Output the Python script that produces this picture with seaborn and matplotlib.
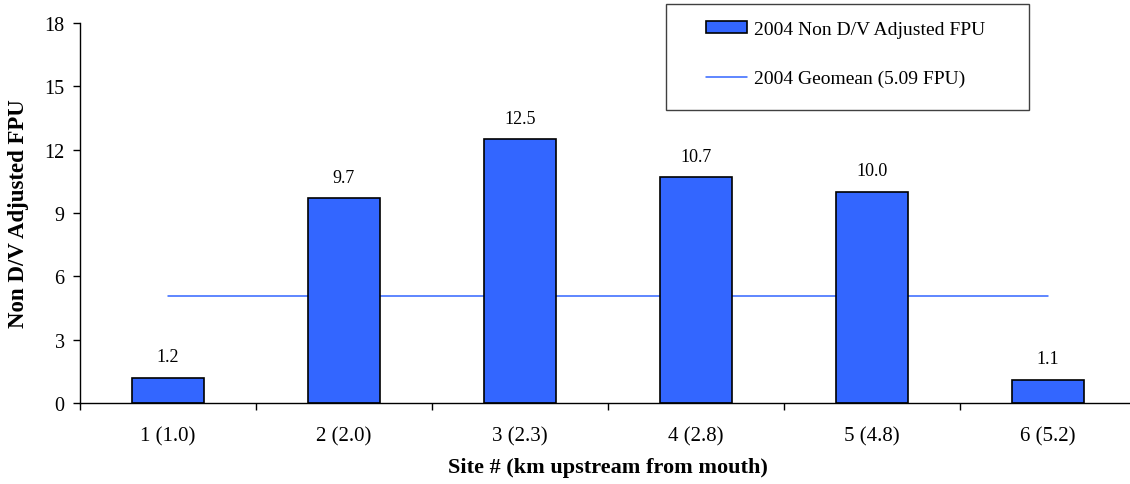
import matplotlib
matplotlib.use("Agg")
import matplotlib.pyplot as plt
from matplotlib.patches import Rectangle
from matplotlib.ticker import FixedLocator, MultipleLocator
import seaborn as sns
import pandas as pd

# Site data
sites = ["1 (1.0)", "2 (2.0)", "3 (2.3)", "4 (2.8)", "5 (4.8)", "6 (5.2)"]
fpu_values = [1.2, 9.7, 12.5, 10.7, 10.0, 1.1]
geomean = 5.09

bar_label = "2004 Non D/V Adjusted FPU"
line_label = "2004 Geomean (5.09 FPU)"

sns.set_theme(style="white")
plt.rcParams["font.family"] = ["Liberation Serif", "DejaVu Serif"]
plt.rcParams["text.color"] = "black"

W, H = 1130, 485
fig = plt.figure(figsize=(W / 100, H / 100), dpi=100)
ax = fig.add_axes([80 / W, (H - 404) / H, 1056 / W, 380 / H])

df = pd.DataFrame({"site": sites, "fpu": fpu_values})
bar_color = "#3366FF"

# Geomean reference line spanning first to last site (behind the bars)
ax.plot([0, len(sites) - 1], [geomean, geomean], color=bar_color,
        lw=1.1, zorder=1, label=line_label)

sns.barplot(data=df, x="site", y="fpu", color=bar_color, edgecolor="black",
            linewidth=1.2, width=0.41, saturation=1, ax=ax, zorder=2,
            label=bar_label)

# Value labels above bars
for i, v in enumerate(fpu_values):
    ax.annotate(f"{v:.1f}", (i, v), xytext=(0, 9), textcoords="offset points",
                ha="center", va="bottom", fontsize=13, color="black")

ax.set_xlim(-0.5, len(sites) - 0.5)
ax.set_ylim(0, 18)
ax.yaxis.set_major_locator(MultipleLocator(3))

# Ticks: labels under categories, tick marks at category boundaries
ax.xaxis.set_minor_locator(FixedLocator([i - 0.5 for i in range(len(sites) + 1)]))
ax.tick_params(axis="x", which="major", length=0, pad=17, labelsize=15, colors="black")
ax.tick_params(axis="x", which="minor", length=5, width=1, direction="out",
               color="black", bottom=True)
ax.tick_params(axis="y", which="major", length=5, width=1, direction="out",
               pad=6, labelsize=14.5, colors="black", left=True)

for side in ("top", "right"):
    ax.spines[side].set_visible(False)
for side in ("left", "bottom"):
    ax.spines[side].set_color("black")
    ax.spines[side].set_linewidth(1)

ax.set_xlabel("Site # (km upstream from mouth)", fontsize=16, fontweight="bold",
              labelpad=8, color="black")
ax.set_ylabel("Non D/V Adjusted FPU", fontsize=16.5, fontweight="bold",
              labelpad=11, color="black")
ax.grid(False)

# Legend box
handles, labels = ax.get_legend_handles_labels()
if ax.get_legend() is not None:
    ax.get_legend().remove()
fig.patches.append(Rectangle((666 / W, 1 - 111 / H), 363 / W, 106 / H,
                             transform=fig.transFigure, facecolor="white",
                             edgecolor="#404040", lw=1, zorder=3))
order = [labels.index(bar_label), labels.index(line_label)]
leg = fig.legend([handles[k] for k in order], [labels[k] for k in order],
                 loc="upper left", bbox_to_anchor=(706 / W, 1 - 22 / H),
                 frameon=False, fontsize=14, borderpad=0, borderaxespad=0,
                 handlelength=2.1, handleheight=0.55, handletextpad=0.35,
                 labelspacing=1.65, labelcolor="black")
leg.set_zorder(4)

fig.savefig("out.png", dpi=100)
